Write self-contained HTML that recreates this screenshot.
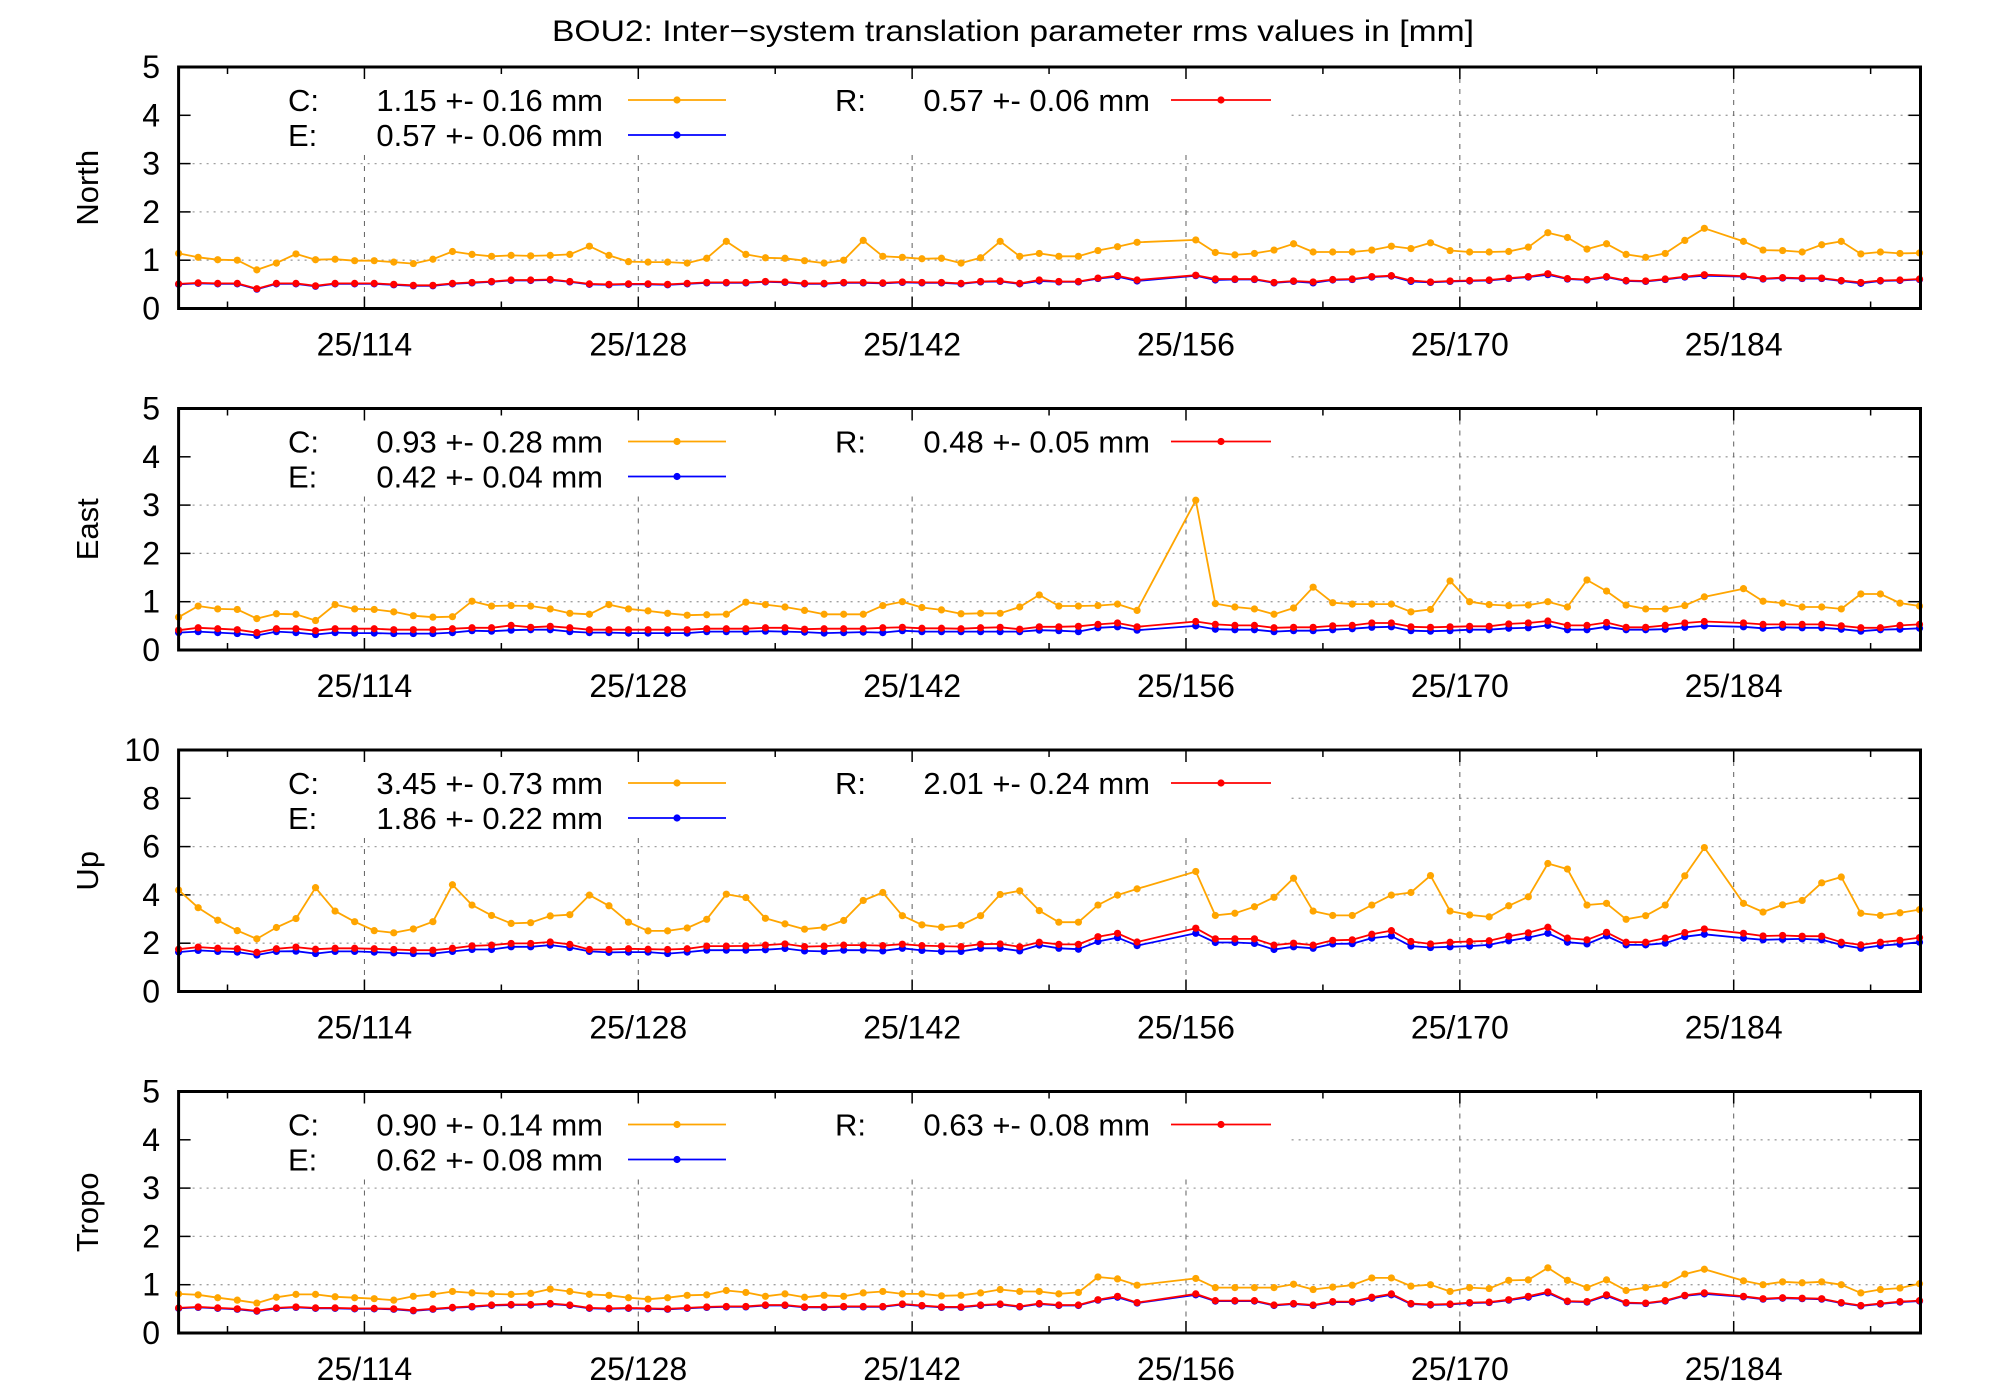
<!DOCTYPE html>
<html><head><meta charset="utf-8"><style>
html,body{margin:0;padding:0;background:#fff;}
svg{display:block;font-family:"Liberation Sans",sans-serif;}
</style></head><body>
<svg id="chart" width="2000" height="1400" viewBox="0 0 2000 1400" xmlns="http://www.w3.org/2000/svg">
<rect x="0" y="0" width="2000" height="1400" fill="#fff"/>
<text x="1013" y="41" font-size="30" text-anchor="middle" textLength="922" lengthAdjust="spacingAndGlyphs">BOU2: Inter−system translation parameter rms values in [mm]</text>
</svg>
<script>
const days = [104.5,105.5,106.5,107.5,108.5,109.5,110.5,111.5,112.5,113.5,114.5,115.5,116.5,117.5,118.5,119.5,120.5,121.5,122.5,123.5,124.5,125.5,126.5,127.5,128.5,129.5,130.5,131.5,132.5,133.5,134.5,135.5,136.5,137.5,138.5,139.5,140.5,141.5,142.5,143.5,144.5,145.5,146.5,147.5,148.5,149.5,150.5,151.5,152.5,153.5,156.5,157.5,158.5,159.5,160.5,161.5,162.5,163.5,164.5,165.5,166.5,167.5,168.5,169.5,170.5,171.5,172.5,173.5,174.5,175.5,176.5,177.5,178.5,179.5,180.5,181.5,182.5,184.5,185.5,186.5,187.5,188.5,189.5,190.5,191.5,192.5,193.5];
const xTickDays = [114,128,142,156,170,184];
const xTickLabels = ["25/114","25/128","25/142","25/156","25/170","25/184"];
const xMinorDays = [107,121,135,149,163,177,191];
const panelNames = ["North","East","Up","Tropo"];
const yMaxes = [5,5,10,5];
const yTicksSmall = [0,1,2,3,4,5];
const yTicksUp = [0,2,4,6,8,10];
const legendC = ["1.15 +- 0.16 mm","0.93 +- 0.28 mm","3.45 +- 0.73 mm","0.90 +- 0.14 mm"];
const legendE = ["0.57 +- 0.06 mm","0.42 +- 0.04 mm","1.86 +- 0.22 mm","0.62 +- 0.08 mm"];
const legendR = ["0.57 +- 0.06 mm","0.48 +- 0.05 mm","2.01 +- 0.24 mm","0.63 +- 0.08 mm"];

const northC = [1.14,1.06,1.01,1.0,0.80,0.94,1.13,1.01,1.02,0.99,0.99,0.96,0.93,1.02,1.18,1.12,1.08,1.10,1.09,1.10,1.12,1.29,1.10,0.97,0.96,0.96,0.94,1.04,1.39,1.12,1.05, 1.04,0.99,0.94,1.0,1.41,1.08,1.06,1.03,1.04,0.94,1.05,1.39,1.08,1.14,1.08,1.08,1.20,1.28,1.37, 1.42,1.16,1.11,1.14,1.21,1.34,1.17,1.17,1.17, 1.21,1.29,1.24,1.36,1.20,1.17,1.17,1.18,1.27,1.57,1.47,1.23,1.34,1.12,1.06,1.14,1.41,1.66, 1.39,1.21,1.20,1.17,1.32,1.39,1.13,1.17,1.14,1.15];
const northR = [.51,.53,.52,.52,.41,.52,.52,.47,.52,.52,.52,.50,.48,.48,.52,.54,.56,.59,.59,.60,.56,.51,.50,.51,.51,.50,.52,.54,.54,.54,.56, .55,.52,.52,.54,.54,.53,.55,.54,.54,.52,.56,.57,.52,.59,.56,.56,.63,.68,.59, .69,.61,.61,.61,.54,.57,.55,.60,.61, .66,.68,.58,.55,.57,.58,.59,.63,.66,.72,.62,.60,.66,.58,.57,.61,.66,.70, .67,.62,.64,.63,.63,.58,.54,.58,.59,.61];
const northE = [.50,.52,.51,.51,.40,.51,.51,.46,.51,.51,.51,.49,.47,.47,.51,.53,.55,.58,.58,.59,.55,.50,.49,.50,.50,.49,.51,.53,.53,.53,.55, .54,.51,.51,.53,.53,.52,.54,.53,.53,.51,.55,.56,.51,.57,.55,.55,.62,.66,.57, .68,.59,.60,.60,.53,.56,.53,.59,.60, .65,.67,.56,.54,.56,.57,.58,.62,.65,.70,.61,.59,.65,.57,.56,.60,.65,.68, .66,.61,.63,.62,.62,.57,.52,.57,.58,.60];

const eastC = [.68,.91,.85,.84,.65,.75,.74,.61,.94,.85,.84,.79,.71,.68,.69,1.01,.91,.92,.91,.85,.76,.74,.94,.85,.81,.76,.72,.73,.74,.99,.94, .89,.82,.74,.74,.74,.92,1.0,.88,.83,.75,.76,.76,.89,1.14,.91,.91,.92,.95,.82, 3.10,.96,.89,.85,.74,.87,1.30,.98,.95, .95,.95,.79,.84,1.43,1.0,.94,.92,.93,1.0,.89,1.45,1.22,.93,.85,.85,.92,1.10, 1.27,1.01,.97,.89,.89,.85,1.16,1.16,.97,.91];
const eastR = [.41,.46,.44,.42,.36,.44,.44,.40,.44,.44,.44,.42,.42,.42,.44,.46,.46,.51,.47,.49,.46,.42,.42,.42,.42,.42,.42,.44,.44,.44,.46, .46,.43,.44,.44,.44,.46,.47,.45,.45,.44,.46,.47,.43,.48,.48,.49,.53,.56,.48, .59,.53,.51,.51,.46,.47,.47,.50,.51, .56,.56,.48,.47,.48,.49,.49,.54,.56,.60,.51,.51,.57,.47,.47,.51,.56,.59, .56,.53,.53,.53,.53,.50,.46,.46,.51,.53];
const eastE = [.36,.38,.36,.34,.30,.38,.36,.32,.36,.35,.35,.34,.34,.34,.36,.40,.39,.41,.42,.42,.38,.36,.36,.35,.35,.35,.35,.38,.38,.38,.39, .38,.37,.35,.36,.37,.36,.40,.38,.38,.38,.38,.38,.38,.41,.40,.38,.46,.48,.41, .50,.43,.42,.42,.38,.40,.40,.42,.44, .47,.48,.40,.39,.40,.42,.42,.45,.46,.51,.42,.42,.48,.42,.42,.43,.47,.50, .48,.45,.47,.46,.46,.43,.39,.42,.43,.45];

const upC = [4.20,3.47,2.95,2.52,2.18,2.65,3.02,4.30,3.33,2.89,2.52,2.43,2.59,2.89,4.42,3.58,3.15,2.82,2.85,3.13,3.18,3.99,3.55,2.87,2.51,2.51,2.63,2.99,4.03,3.89,3.03, 2.80,2.58,2.66,2.94,3.77,4.10,3.14,2.76,2.66,2.74,3.14,4.02,4.17,3.35,2.87,2.87,3.58,3.99,4.25, 4.97,3.15,3.24,3.51,3.90,4.69,3.33,3.15,3.15, 3.58,3.99,4.10,4.80,3.33,3.17,3.09,3.55,3.92,5.30,5.07,3.58,3.65,2.99,3.14,3.58,4.79,5.96, 3.65,3.29,3.59,3.77,4.50,4.74,3.24,3.15,3.26,3.39];
const upR = [1.75,1.84,1.79,1.77,1.62,1.77,1.84,1.75,1.79,1.79,1.77,1.74,1.71,1.71,1.79,1.89,1.92,1.99,1.99,2.05,1.95,1.74,1.74,1.77,1.75,1.74,1.77,1.88,1.88,1.89,1.92, 1.97,1.86,1.88,1.92,1.92,1.90,1.96,1.90,1.88,1.86,1.96,1.97,1.85,2.04,1.95,1.95,2.27,2.41,2.05, 2.62,2.18,2.18,2.18,1.92,2.00,1.92,2.12,2.14, 2.37,2.52,2.07,1.97,2.04,2.07,2.10,2.29,2.43,2.66,2.21,2.14,2.45,2.04,2.04,2.21,2.44,2.59, 2.41,2.30,2.32,2.29,2.29,2.04,1.93,2.04,2.12,2.23];
const upE = [1.63,1.70,1.66,1.63,1.51,1.66,1.67,1.57,1.66,1.66,1.63,1.60,1.57,1.57,1.66,1.74,1.74,1.85,1.85,1.92,1.82,1.66,1.62,1.63,1.63,1.57,1.63,1.71,1.71,1.71,1.73, 1.78,1.68,1.66,1.71,1.71,1.68,1.79,1.70,1.66,1.66,1.79,1.79,1.68,1.92,1.79,1.75,2.07,2.23,1.90, 2.41,2.03,2.03,1.99,1.74,1.85,1.79,1.97,1.98, 2.21,2.30,1.88,1.82,1.85,1.88,1.93,2.10,2.23,2.41,2.04,1.97,2.30,1.93,1.93,2.00,2.27,2.37, 2.21,2.14,2.16,2.18,2.14,1.93,1.79,1.90,1.96,2.04];

const tropoC = [.81,.79,.73,.68,.62,.74,.80,.80,.75,.73,.71,.68,.76,.80,.86,.83,.81,.80,.82,.91,.86,.80,.78,.73,.70,.73,.78,.79,.88,.84,.76, .81,.74,.78,.76,.83,.86,.81,.81,.77,.78,.83,.90,.86,.86,.81,.84,1.16,1.12,.99, 1.13,.94,.94,.94,.94,1.01,.90,.95,.99, 1.14,1.14,.97,1.00,.86,.94,.92,1.09,1.10,1.35,1.09,.94,1.10,.88,.94,1.00,1.22,1.32, 1.08,1.00,1.06,1.04,1.06,1.00,.83,.90,.93,1.02];
const tropoR = [.52,.54,.52,.50,.46,.52,.54,.52,.52,.51,.51,.50,.47,.50,.53,.55,.58,.59,.59,.61,.58,.52,.51,.52,.51,.50,.52,.54,.55,.55,.58, .58,.54,.54,.55,.55,.55,.60,.57,.54,.54,.58,.60,.55,.61,.58,.58,.69,.76,.63, .81,.67,.67,.67,.58,.61,.58,.65,.65, .74,.81,.61,.59,.60,.63,.64,.69,.76,.85,.66,.65,.79,.63,.62,.67,.78,.83, .76,.71,.73,.72,.71,.63,.57,.61,.65,.67];
const tropoE = [.51,.53,.51,.49,.45,.51,.53,.51,.51,.50,.50,.49,.46,.49,.52,.54,.57,.58,.58,.60,.57,.51,.50,.51,.50,.49,.51,.53,.54,.54,.57, .57,.53,.53,.54,.54,.54,.59,.56,.53,.53,.57,.59,.54,.60,.57,.57,.68,.74,.62, .79,.66,.66,.66,.57,.60,.57,.64,.64, .72,.79,.60,.58,.59,.62,.63,.68,.74,.83,.65,.64,.77,.62,.61,.66,.77,.81, .75,.70,.72,.71,.70,.62,.56,.60,.64,.66];

const seriesC = [northC, eastC, upC, tropoC];
const seriesE = [northE, eastE, upE, tropoE];
const seriesR = [northR, eastR, upR, tropoR];

const NS = "http://www.w3.org/2000/svg";
const svg = document.getElementById("chart");
const X0 = 178.6, X1 = 1920.5, DMIN = 104.5, DMAX = 193.55;
const panelTops = [67, 408.5, 750, 1091.5];
const PH = 241.5;
function xScale(d){ return X0 + (d - DMIN) / (DMAX - DMIN) * (X1 - X0); }
function mk(tag, attrs, parent){
  const el = document.createElementNS(NS, tag);
  for (const k in attrs) el.setAttribute(k, attrs[k]);
  (parent || svg).appendChild(el);
  return el;
}
const COLORS = {C:"#ffa500", E:"#0000ff", R:"#ff0000"};

panelNames.forEach((name, p) => {
  const top = panelTops[p], bot = top + PH, ymax = yMaxes[p];
  const yScale = v => bot - v / ymax * PH;
  const g = mk("g", {});
  
  
  const yt = p === 2 ? yTicksUp : yTicksSmall;
  // horizontal grid
  yt.forEach(v => {
    if (v > 0 && v < ymax) {
      const gl = mk("line", {x1:X0, x2:X1, y1:yScale(v), y2:yScale(v), stroke:"#a0a0a0", "stroke-width":1.3, "stroke-dasharray":"2,5"}, g);
      
      
    }
  });
  // vertical grid
  xTickDays.forEach(d => {
    const vl = mk("line", {x1:xScale(d), x2:xScale(d), y1:top, y2:bot, stroke:"#606060", "stroke-width":1, "stroke-dasharray":"5,6"}, g);
    
    
  });
  // legend background
  const lb = mk("rect", {x:X0+2, y:top+2, width:1110, height:84, fill:"#fff"}, g);
  
  
  // ticks
  yt.forEach(v => {
    const y = yScale(v);
    mk("line", {x1:X0, x2:X0+12, y1:y, y2:y, stroke:"#000", "stroke-width":1.5}, g);
    mk("line", {x1:X1-12, x2:X1, y1:y, y2:y, stroke:"#000", "stroke-width":1.5}, g);
    const t = mk("text", {x:160, y:y+11, "font-size":32, "text-anchor":"end"}, g);
    
    
    t.textContent = String(v);
  });
  xTickDays.forEach((d, i) => {
    const x = xScale(d);
    mk("line", {x1:x, x2:x, y1:bot, y2:bot-12, stroke:"#000", "stroke-width":1.5}, g);
    mk("line", {x1:x, x2:x, y1:top, y2:top+12, stroke:"#000", "stroke-width":1.5}, g);
    const t = mk("text", {x:x, y:bot+47, "font-size":32, "text-anchor":"middle"}, g);
    
    
    t.textContent = xTickLabels[i];
  });
  xMinorDays.forEach(d => {
    const x = xScale(d);
    mk("line", {x1:x, x2:x, y1:bot, y2:bot-7, stroke:"#000", "stroke-width":1.5}, g);
    mk("line", {x1:x, x2:x, y1:top, y2:top+7, stroke:"#000", "stroke-width":1.5}, g);
  });
  // axis title
  const at = mk("text", {x:0, y:0, "font-size":31, "text-anchor":"middle", transform:"translate(98," + (top+PH/2) + ") rotate(-90)"}, g);
  
  
  at.textContent = name;
  // series
  const drawSeries = (vals, color, key) => {
    const sg = mk("g", {}, g);
    
    
    const pts = days.map((d, i) => xScale(d).toFixed(1) + "," + yScale(vals[i]).toFixed(1)).join(" ");
    const pl = mk("polyline", {points:pts, fill:"none", stroke:color, "stroke-width":1.8, "stroke-linejoin":"round"}, sg);
    
    
    days.forEach((d, i) => {
      const c = mk("circle", {cx:xScale(d), cy:yScale(vals[i]), r:3.6, fill:color}, sg);
      
      
    });
  };
  drawSeries(seriesC[p], COLORS.C, "c");
  drawSeries(seriesE[p], COLORS.E, "e");
  drawSeries(seriesR[p], COLORS.R, "r");
  // legend
  const legendEntry = (lx, ly, label, val, valEnd, lineX1, lineX2, color, key) => {
    const lg = mk("g", {}, g);
    
    
    const t1 = mk("text", {x:lx, y:ly+11, "font-size":31}, lg);
    
    
    t1.textContent = label;
    const t2 = mk("text", {x:valEnd, y:ly+11, "font-size":31, "text-anchor":"end"}, lg);
    
    
    t2.textContent = val;
    mk("line", {x1:lineX1, x2:lineX2, y1:ly, y2:ly, stroke:color, "stroke-width":1.8}, lg);
    mk("circle", {cx:(lineX1+lineX2)/2, cy:ly, r:3.6, fill:color}, lg);
  };
  legendEntry(288, top+33, "C:", legendC[p], 603, 628, 726, COLORS.C, "c");
  legendEntry(288, top+68, "E:", legendE[p], 603, 628, 726, COLORS.E, "e");
  legendEntry(835, top+33, "R:", legendR[p], 1150, 1171, 1271, COLORS.R, "r");
  // frame
  const fr = mk("rect", {x:X0, y:top, width:X1-X0, height:PH, fill:"none", stroke:"#000", "stroke-width":3}, g);
  
  
});
</script>
</body></html>
